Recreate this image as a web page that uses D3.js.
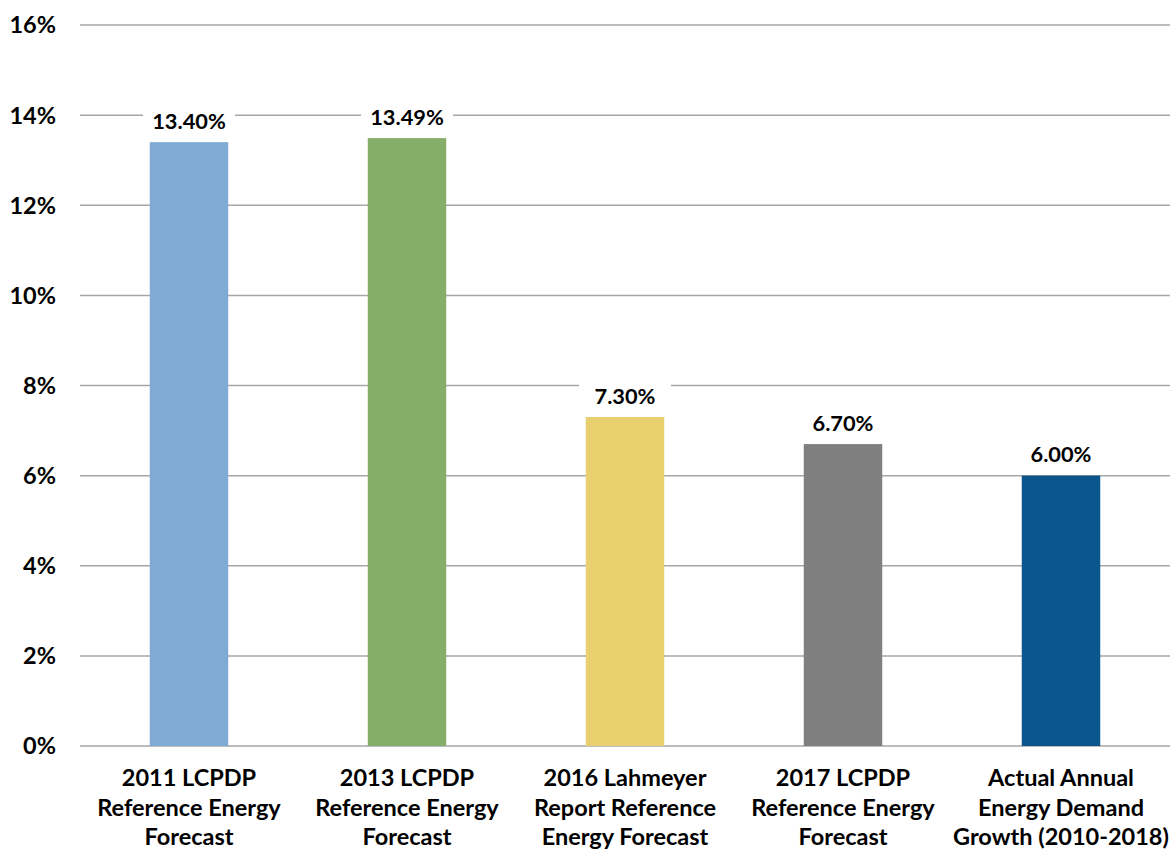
<!DOCTYPE html>
<html><head><meta charset="utf-8">
<script src="https://cdn.jsdelivr.net/npm/d3@7"></script>
<style>body{margin:0;background:#fff;} svg{display:block;}</style>
</head><body>
<svg id="chart" width="1170" height="852"></svg>
<script>
const categories = [
  ["2011 LCPDP","Reference Energy","Forecast"],
  ["2013 LCPDP","Reference Energy","Forecast"],
  ["2016 Lahmeyer","Report Reference","Energy Forecast"],
  ["2017 LCPDP","Reference Energy","Forecast"],
  ["Actual Annual","Energy Demand","Growth (2010-2018)"]
];
const values = [13.40, 13.49, 7.30, 6.70, 6.00];
const valueLabels = ["13.40%","13.49%","7.30%","6.70%","6.00%"];
const colors = ["#7FAAD3","#86AE6B","#E7D06D","#7F7F7F","#0B568C"];
const yTicks = [0,2,4,6,8,10,12,14,16];

(function(){
const svg = d3.select("#chart");
const font = "Lato, 'Open Sans', sans-serif";
const mLeft = 80, mRight = 1170, mTop = 25, mBottom = 746;

const x = d3.scaleBand().domain(d3.range(values.length)).range([mLeft, mRight]).paddingInner(0.64).paddingOuter(0.32);
const y = d3.scaleLinear().domain([0,16]).range([mBottom, mTop]);

svg.append("g").selectAll("line").data(yTicks).join("line")
  .attr("x1", mLeft).attr("x2", mRight)
  .attr("y1", d => y(d)).attr("y2", d => y(d))
  .attr("stroke", "#a6a6a6").attr("stroke-width", 1.5);

svg.append("g").selectAll("text").data(yTicks).join("text")
  .attr("x", 56).attr("y", d => y(d)).attr("dy", "0.36em")
  .attr("text-anchor", "end")
  .attr("font-family", font).attr("font-weight", "bold").attr("font-size", 23.5)
  .attr("fill", "#000").text(d => d + "%");

svg.append("g").selectAll("rect").data(values).join("rect")
  .attr("x", (d,i) => x(i)).attr("width", x.bandwidth())
  .attr("y", d => y(d)).attr("height", d => y(0) - y(d))
  .attr("fill", (d,i) => colors[i]);

const lg = svg.append("g").selectAll("g").data(values).join("g")
  .attr("transform", (d,i) => `translate(${x(i)+x.bandwidth()/2},${y(d)-21})`);
lg.append("rect").attr("x", -46).attr("y", -14).attr("width", 92).attr("height", 28).attr("fill", "#fff");
lg.append("text").attr("text-anchor", "middle").attr("dy", "0.36em")
  .attr("font-family", font).attr("font-weight", "bold").attr("font-size", 21.8)
  .attr("fill", "#000").text((d,i) => valueLabels[i]);

const cg = svg.append("g").selectAll("text").data(categories).join("text")
  .attr("text-anchor", "middle")
  .attr("font-family", font).attr("font-weight", "bold").attr("font-size", 23.5)
  .attr("fill", "#000");
cg.selectAll("tspan").data((d,i) => d.map(s => ({s, i}))).join("tspan")
  .attr("x", d => x(d.i) + x.bandwidth()/2)
  .attr("y", (d,j) => 786 + j*29.5)
  .text(d => d.s);
})();
</script>
</body></html>
